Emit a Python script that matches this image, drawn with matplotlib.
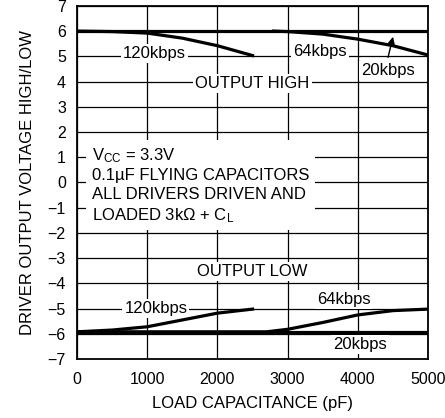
import numpy as np
import matplotlib
matplotlib.use("Agg")
import matplotlib.pyplot as plt

plt.rcParams['font.family'] = ['Liberation Sans', 'DejaVu Sans']
plt.rcParams['mathtext.fontset'] = 'custom'
plt.rcParams['mathtext.rm'] = 'Liberation Sans'
plt.rcParams['mathtext.it'] = 'Liberation Sans'

# data (load capacitance in pF, voltage in V)
cap = [0, 500, 1000, 1500, 2000, 2500, 3000, 3500, 4000, 4500, 5000]
high_20k = [6.0] * 11
high_120k_x = [0, 500, 1000, 1500, 2000, 2500]
high_120k = [6.0, 5.98, 5.92, 5.72, 5.42, 5.03]
high_64k_x = [2800, 3000, 3500, 4000, 4500, 5000]
high_64k = [6.0, 5.98, 5.88, 5.68, 5.42, 5.05]
low_20k = [-5.92] * 11
low_120k_x = [0, 500, 1000, 1500, 2000, 2500]
low_120k = [-5.92, -5.85, -5.72, -5.45, -5.18, -5.02]
low_64k_x = [0, 2700, 3000, 3500, 4000, 4500, 5000]
low_64k = [-5.92, -5.92, -5.82, -5.55, -5.25, -5.08, -5.02]

xticks = [0, 1000, 2000, 3000, 4000, 5000]
yticks = list(range(-7, 8))

fig = plt.figure(figsize=(4.45, 4.18), dpi=100)
ax = fig.add_axes([0.173, 0.141, 0.789, 0.845])

lw = 2.3
ax.plot(cap, high_20k, 'k', lw=lw, zorder=6)
ax.plot(high_120k_x, high_120k, 'k', lw=lw, zorder=6)
ax.plot(high_64k_x, high_64k, 'k', lw=lw, zorder=6)
ax.plot(cap, low_20k, 'k', lw=lw, zorder=6)
ax.plot(low_120k_x, low_120k, 'k', lw=lw, zorder=6)
ax.plot(low_64k_x, low_64k, 'k', lw=lw, zorder=6)

ax.set_xlim(0, 5000)
ax.set_ylim(-7, 7)
ax.set_xticks(xticks)
ax.set_yticks(yticks)
ax.set_yticklabels([str(v).replace('-', '\u2212') for v in yticks])
ax.grid(True, color='k', lw=0.9)
ax.tick_params(length=0, labelsize=11.5)
ax.tick_params(axis='x', pad=9)
ax.tick_params(axis='y', pad=8)
for s in ax.spines.values():
    s.set_linewidth(1.3)
    s.set_zorder(7)

ax.set_xlabel("LOAD CAPACITANCE (pF)", fontsize=12, labelpad=7)
ax.set_ylabel("DRIVER OUTPUT VOLTAGE HIGH/LOW", fontsize=12, labelpad=9)

box = dict(facecolor='white', edgecolor='none', pad=1.5)
fs = 12
ax.text(1100, 5.13, "120kbps", ha='center', va='center', fontsize=fs, bbox=box, zorder=4)
ax.text(3460, 5.2, "64kbps", ha='center', va='center', fontsize=fs, bbox=box, zorder=4)
ax.text(4430, 4.42, "20kbps", ha='center', va='center', fontsize=fs, bbox=box, zorder=4)
ax.text(2500, 3.93, "OUTPUT HIGH", ha='center', va='center', fontsize=fs, bbox=box, zorder=4)
ax.text(2500, -3.52, "OUTPUT LOW", ha='center', va='center', fontsize=fs, bbox=box, zorder=4)
ax.text(1125, -5.0, "120kbps", ha='center', va='center', fontsize=fs, bbox=box, zorder=4)
ax.text(3795, -4.63, "64kbps", ha='center', va='center', fontsize=fs, bbox=box, zorder=4)
ax.text(4030, -6.42, "20kbps", ha='center', va='center', fontsize=fs, bbox=box, zorder=4)
ax.annotate("", xy=(4510, 5.88), xytext=(4420, 4.85),
            arrowprops=dict(arrowstyle='-|>', color='k', lw=1.0, mutation_scale=10), zorder=8)

ax.text(210, 1.45,
        "V$_{\\rm CC}$ = 3.3V\n0.1\u00b5F FLYING CAPACITORS\nALL DRIVERS DRIVEN AND\nLOADED 3k\u03a9 + C$_{\\rm L}$",
        ha='left', va='top', fontsize=fs, linespacing=1.3,
        bbox=dict(facecolor='white', edgecolor='none', pad=4), zorder=4)

fig.savefig("out.png", dpi=100)
